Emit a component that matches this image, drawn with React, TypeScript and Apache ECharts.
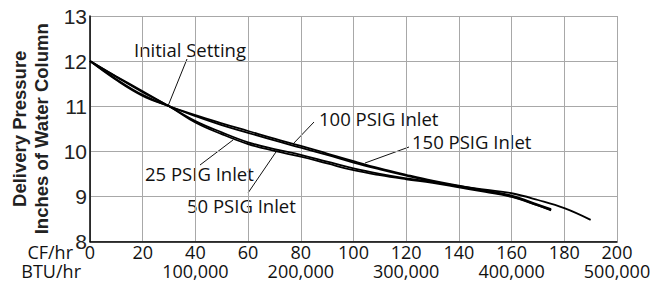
import React, { useEffect, useRef } from "react";
import * as echarts from "echarts";

const cfTicks = [0, 20, 40, 60, 80, 100, 120, 140, 160, 180, 200];
const btuTicks = [0, 40, 80, 120, 160, 200];
const btuLabels = ["", "100,000", "200,000", "300,000", "400,000", "500,000"];
const yTicks = [8, 9, 10, 11, 12, 13];

const psig25: [number, number][] = [
  [0, 12], [10, 11.66], [20, 11.33], [30, 11.0], [40, 10.67], [50, 10.42], [60, 10.2],
  [70, 10.05], [80, 9.92], [90, 9.77], [100, 9.62], [110, 9.5], [120, 9.4], [130, 9.32],
  [140, 9.22], [150, 9.12], [160, 9.0], [170, 8.8], [175, 8.69],
];
const psig50: [number, number][] = [
  [0, 12], [10, 11.65], [20, 11.31], [30, 11.0], [40, 10.64], [50, 10.38], [60, 10.16],
  [70, 10.01], [80, 9.88], [90, 9.73], [100, 9.58], [110, 9.47], [120, 9.38], [130, 9.3],
  [140, 9.2], [150, 9.1], [160, 8.99], [170, 8.8], [175, 8.7],
];
const psig100: [number, number][] = [
  [0, 12], [10, 11.6], [20, 11.25], [30, 11.0], [40, 10.8], [50, 10.62], [60, 10.45],
  [70, 10.28], [80, 10.12], [90, 9.95], [100, 9.78], [110, 9.62], [120, 9.48], [130, 9.35],
  [140, 9.24], [150, 9.13], [160, 9.02], [170, 8.82], [175, 8.72],
];
const psig150: [number, number][] = [
  [0, 12], [10, 11.58], [20, 11.23], [30, 11.0], [40, 10.78], [50, 10.58], [60, 10.41],
  [70, 10.24], [80, 10.08], [90, 9.92], [100, 9.75], [110, 9.6], [120, 9.46], [130, 9.33],
  [140, 9.23], [150, 9.15], [160, 9.07], [170, 8.92], [180, 8.74], [190, 8.48],
];

const seriesNames = ["25 PSIG Inlet", "50 PSIG Inlet", "100 PSIG Inlet", "150 PSIG Inlet"];
const seriesData = [psig25, psig50, psig100, psig150];

const annoFont = '"Open Sans", sans-serif';

export default function App() {
  const ref = useRef<HTMLDivElement>(null);
  useEffect(() => {
    if (!ref.current) return;
    const chart = echarts.init(ref.current, null, { renderer: "svg" });
    const textStyle = { fill: "#111", font: `18.5px ${annoFont}` };
    const axisTextStyle = { fill: "#111", font: `18px ${annoFont}` };
    const lineStyle = { stroke: "#111", lineWidth: 1 };
    chart.setOption({
      animation: false,
      backgroundColor: "#fff",
      grid: { left: 90, top: 16, right: 47, bottom: 42.5, containLabel: false },
      xAxis: [
        {
          type: "value",
          min: 0,
          max: 200,
          interval: 20,
          position: "bottom",
          axisLine: { show: true, lineStyle: { color: "#000", width: 1.5 } },
          axisTick: { show: false },
          splitLine: { show: true, lineStyle: { color: "#a8a8a8", width: 1 } },
          axisLabel: {
            margin: 2,
            fontFamily: annoFont,
            fontSize: 18,
            lineHeight: 16,
            color: "#111",
            formatter: (v: number) => (cfTicks.includes(v) ? String(v) : ""),
          },
        },
        {
          type: "value",
          min: 0,
          max: 200,
          interval: 40,
          position: "bottom",
          offset: 20,
          axisLine: { show: false },
          axisTick: { show: false },
          splitLine: { show: false },
          axisLabel: {
            margin: 1,
            fontFamily: annoFont,
            fontSize: 18,
            lineHeight: 16,
            color: "#111",
            formatter: (v: number) => {
              const i = btuTicks.indexOf(v);
              return i >= 0 ? btuLabels[i] : "";
            },
          },
        },
      ],
      yAxis: {
        type: "value",
        min: 8,
        max: 13,
        interval: 1,
        axisLine: { show: true, lineStyle: { color: "#000", width: 1.5 } },
        axisTick: { show: false },
        splitLine: { show: true, lineStyle: { color: "#a8a8a8", width: 1 } },
        axisLabel: {
          margin: 3,
          fontFamily: '"Liberation Sans", Arial, sans-serif',
          fontSize: 21,
          color: "#222",
          padding: [0, 0, 5, 0],
          formatter: (v: number) => (yTicks.includes(v) ? String(v) : ""),
        },
        name: "Delivery Pressure\nInches of Water Column",
        nameLocation: "middle",
        nameGap: 29,
        nameTextStyle: {
          fontFamily: '"Liberation Sans", Arial, sans-serif',
          fontWeight: "bold",
          fontSize: 18.5,
          lineHeight: 22,
          color: "#222",
        },
      },
      series: seriesNames.map((name, i) => ({
        name,
        type: "line",
        xAxisIndex: 0,
        data: seriesData[i],
        smooth: 0.4,
        symbol: "none",
        lineStyle: { color: "#000", width: 1.8 },
      })),
      graphic: [
        { type: "text", x: 73, y: 252, style: { ...axisTextStyle, text: "CF/hr", align: "right", verticalAlign: "middle" } },
        { type: "text", x: 81, y: 271, style: { ...axisTextStyle, text: "BTU/hr", align: "right", verticalAlign: "middle" } },
        { type: "text", x: 190, y: 49, style: { ...textStyle, text: "Initial Setting", align: "center", verticalAlign: "middle" } },
        { type: "line", shape: { x1: 187, y1: 59, x2: 168, y2: 106 }, style: lineStyle },
        { type: "text", x: 319, y: 118, style: { ...textStyle, text: "100 PSIG Inlet", align: "left", verticalAlign: "middle" } },
        { type: "line", shape: { x1: 314, y1: 122, x2: 293, y2: 144 }, style: lineStyle },
        { type: "text", x: 412, y: 141, style: { ...textStyle, text: "150 PSIG Inlet", align: "left", verticalAlign: "middle" } },
        { type: "line", shape: { x1: 409, y1: 147, x2: 365, y2: 163 }, style: lineStyle },
        { type: "text", x: 145, y: 173, style: { ...textStyle, text: "25 PSIG Inlet", align: "left", verticalAlign: "middle" } },
        { type: "line", shape: { x1: 200, y1: 165, x2: 233, y2: 140 }, style: lineStyle },
        { type: "text", x: 187, y: 205, style: { ...textStyle, text: "50 PSIG Inlet", align: "left", verticalAlign: "middle" } },
        { type: "line", shape: { x1: 248, y1: 193, x2: 278, y2: 149 }, style: lineStyle },
      ],
    });
    return () => chart.dispose();
  }, []);
  return <div ref={ref} style={{ width: 664, height: 284, position: "absolute", left: 0, top: 0 }} />;
}
